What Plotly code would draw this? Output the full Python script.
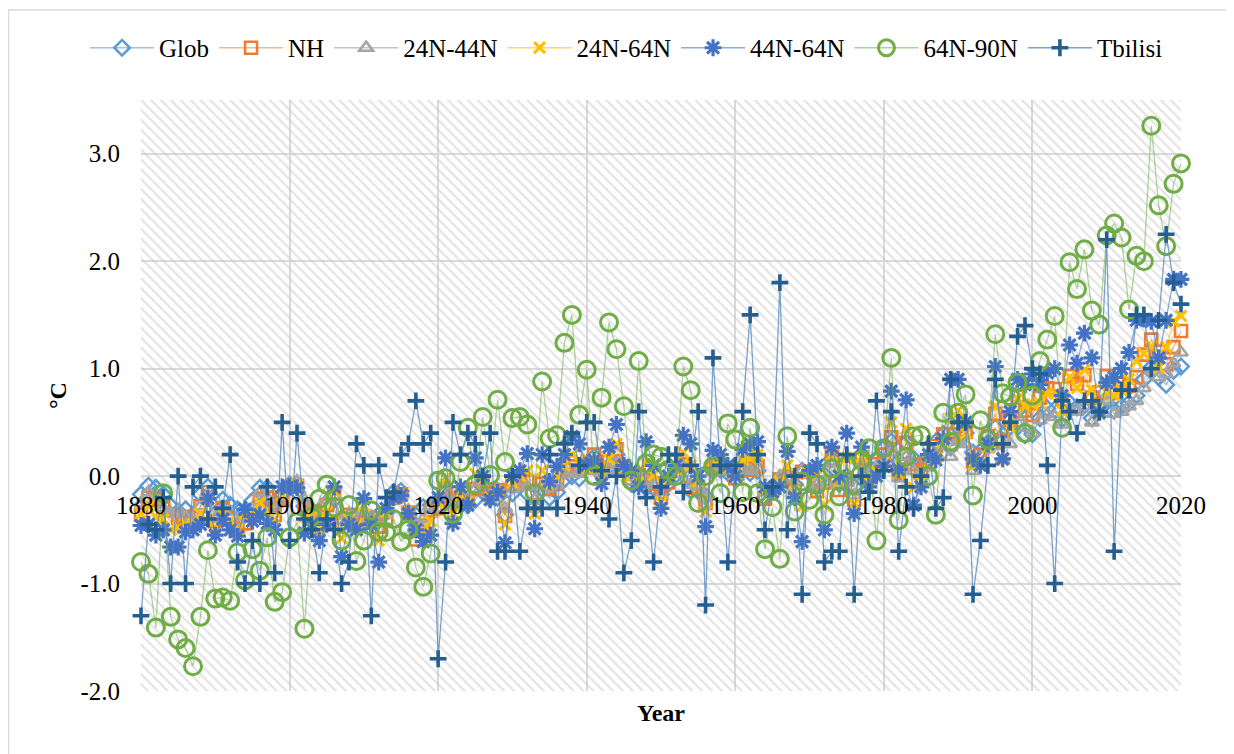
import plotly.graph_objects as go

years = list(range(1880, 2021))

glob = [
    -0.17, -0.09, -0.11, -0.17, -0.28, -0.33, -0.31, -0.36, -0.17, -0.10,
    -0.35, -0.22, -0.27, -0.31, -0.32, -0.23, -0.11, -0.11, -0.27, -0.17,
    -0.08, -0.15, -0.28, -0.37, -0.47, -0.26, -0.22, -0.39, -0.43, -0.48,
    -0.43, -0.44, -0.36, -0.34, -0.15, -0.14, -0.36, -0.46, -0.29, -0.27,
    -0.27, -0.19, -0.28, -0.26, -0.27, -0.22, -0.10, -0.21, -0.20, -0.36,
    -0.16, -0.09, -0.16, -0.29, -0.12, -0.20, -0.15, -0.03, -0.00, -0.02,
    0.12, 0.18, 0.06, 0.09, 0.20, 0.09, -0.07, -0.03, -0.11, -0.11,
    -0.17, -0.07, 0.01, 0.08, -0.13, -0.14, -0.19, 0.05, 0.06, 0.03,
    -0.03, 0.06, 0.03, 0.05, -0.20, -0.11, -0.06, -0.02, -0.08, 0.05,
    0.03, -0.08, 0.01, 0.16, -0.07, -0.01, -0.10, 0.18, 0.07, 0.16,
    0.26, 0.32, 0.14, 0.31, 0.16, 0.12, 0.18, 0.32, 0.39, 0.27,
    0.45, 0.40, 0.22, 0.23, 0.31, 0.45, 0.33, 0.46, 0.61, 0.38,
    0.39, 0.54, 0.63, 0.62, 0.53, 0.68, 0.64, 0.66, 0.54, 0.65,
    0.72, 0.61, 0.65, 0.68, 0.75, 0.90, 1.01, 0.92, 0.85, 0.98,
    1.02,
]

nh = [
    -0.36, -0.20, -0.22, -0.30, -0.43, -0.39, -0.38, -0.44, -0.28, -0.15,
    -0.42, -0.30, -0.40, -0.50, -0.44, -0.36, -0.21, -0.20, -0.36, -0.20,
    -0.10, -0.09, -0.30, -0.33, -0.45, -0.27, -0.16, -0.43, -0.36, -0.43,
    -0.38, -0.39, -0.47, -0.41, -0.20, -0.17, -0.34, -0.59, -0.46, -0.32,
    -0.30, -0.12, -0.25, -0.22, -0.22, -0.12, -0.06, -0.15, -0.13, -0.37,
    -0.08, -0.01, -0.05, -0.27, -0.07, -0.12, -0.07, 0.06, 0.09, 0.05,
    0.09, 0.20, 0.08, 0.14, 0.25, 0.09, -0.02, 0.01, -0.04, -0.07,
    -0.20, -0.06, 0.05, 0.11, -0.11, -0.11, -0.25, 0.07, 0.09, 0.07,
    -0.02, 0.07, 0.06, 0.09, -0.21, -0.13, -0.03, -0.01, -0.14, 0.04,
    0.04, -0.14, -0.06, 0.21, -0.13, -0.03, -0.22, 0.16, 0.01, 0.11,
    0.20, 0.36, 0.03, 0.31, 0.11, 0.05, 0.13, 0.28, 0.39, 0.30,
    0.50, 0.41, 0.14, 0.20, 0.37, 0.58, 0.33, 0.52, 0.75, 0.61,
    0.57, 0.73, 0.82, 0.81, 0.71, 0.93, 0.86, 0.94, 0.73, 0.78,
    0.93, 0.78, 0.86, 0.84, 0.92, 1.13, 1.27, 1.16, 1.04, 1.20,
    1.35,
]

z24_44 = [
    -0.25, -0.15, -0.22, -0.30, -0.35, -0.32, -0.38, -0.40, -0.28, -0.18,
    -0.40, -0.30, -0.33, -0.42, -0.38, -0.30, -0.15, -0.20, -0.32, -0.25,
    -0.12, -0.05, -0.22, -0.30, -0.38, -0.22, -0.18, -0.42, -0.36, -0.40,
    -0.32, -0.38, -0.40, -0.35, -0.22, -0.18, -0.32, -0.48, -0.40, -0.28,
    -0.30, -0.20, -0.24, -0.25, -0.20, -0.12, -0.05, -0.18, -0.12, -0.30,
    -0.12, -0.05, -0.10, -0.22, -0.10, -0.12, -0.08, 0.02, 0.05, 0.02,
    0.05, 0.10, 0.02, 0.06, 0.12, 0.05, -0.05, -0.02, -0.05, -0.08,
    -0.18, -0.05, 0.02, 0.08, -0.08, -0.10, -0.20, 0.05, 0.10, 0.05,
    0.00, 0.05, 0.05, 0.08, -0.15, -0.12, 0.00, -0.02, -0.10, 0.05,
    0.02, -0.08, -0.05, 0.12, -0.08, -0.05, -0.18, 0.10, 0.00, 0.08,
    0.12, 0.22, -0.02, 0.18, 0.05, 0.00, 0.08, 0.20, 0.28, 0.18,
    0.32, 0.30, 0.05, 0.10, 0.25, 0.28, 0.15, 0.30, 0.55, 0.45,
    0.40, 0.52, 0.58, 0.55, 0.48, 0.62, 0.60, 0.65, 0.50, 0.58,
    0.70, 0.58, 0.60, 0.65, 0.70, 0.82, 0.98, 0.92, 0.95, 1.05,
    1.15,
]

z24_64 = [
    -0.35, -0.28, -0.38, -0.40, -0.50, -0.48, -0.45, -0.45, -0.35, -0.20,
    -0.48, -0.35, -0.42, -0.50, -0.35, -0.36, -0.25, -0.32, -0.40, -0.18,
    -0.11, -0.08, -0.38, -0.38, -0.50, -0.33, -0.14, -0.58, -0.40, -0.45,
    -0.28, -0.42, -0.60, -0.33, -0.21, -0.18, -0.34, -0.50, -0.50, -0.42,
    -0.25, -0.02, -0.35, -0.18, -0.24, 0.02, -0.02, -0.20, -0.14, -0.45,
    -0.06, 0.00, 0.05, -0.35, 0.05, -0.08, 0.00, 0.10, 0.20, 0.15,
    0.08, 0.12, 0.00, 0.16, 0.30, 0.08, 0.00, -0.06, 0.12, 0.01,
    -0.24, -0.02, 0.06, 0.22, 0.10, -0.05, -0.33, 0.14, 0.15, 0.08,
    0.00, 0.15, 0.17, 0.20, -0.12, -0.13, -0.05, 0.10, -0.15, -0.28,
    0.03, 0.01, -0.27, 0.20, -0.04, 0.17, -0.26, 0.18, -0.05, 0.04,
    0.10, 0.50, 0.02, 0.44, -0.11, -0.05, 0.14, 0.17, 0.31, 0.54,
    0.61, 0.40, 0.10, 0.10, 0.27, 0.65, 0.15, 0.45, 0.72, 0.65,
    0.67, 0.68, 0.77, 0.77, 0.61, 0.92, 0.82, 0.99, 0.80, 0.58,
    0.78, 0.75, 0.80, 0.90, 1.07, 1.14, 1.21, 1.01, 1.20, 1.44,
    1.49,
]

z44_64 = [
    -0.46, -0.45, -0.55, -0.50, -0.66, -0.66, -0.52, -0.50, -0.45, -0.21,
    -0.55, -0.40, -0.50, -0.56, -0.31, -0.42, -0.36, -0.44, -0.50, -0.10,
    -0.10, -0.11, -0.53, -0.45, -0.60, -0.45, -0.10, -0.75, -0.45, -0.50,
    -0.21, -0.45, -0.80, -0.30, -0.20, -0.18, -0.35, -0.50, -0.61, -0.55,
    -0.20, 0.17, -0.44, -0.10, -0.27, 0.17, 0.00, -0.22, -0.15, -0.62,
    0.00, 0.05, 0.21, -0.49, 0.20, -0.05, 0.09, 0.20, 0.37, 0.30,
    0.10, 0.15, -0.07, 0.27, 0.48, 0.10, 0.05, -0.10, 0.32, 0.10,
    -0.30, 0.00, 0.10, 0.38, 0.30, 0.00, -0.47, 0.24, 0.20, 0.10,
    0.00, 0.25, 0.30, 0.32, -0.10, -0.15, -0.10, 0.23, -0.20, -0.61,
    0.05, 0.10, -0.50, 0.27, 0.00, 0.40, -0.35, 0.27, -0.10, 0.00,
    0.09, 0.79, 0.06, 0.71, -0.27, -0.10, 0.20, 0.15, 0.35, 0.90,
    0.90, 0.50, 0.16, 0.10, 0.30, 1.02, 0.16, 0.60, 0.90, 0.85,
    0.95, 0.85, 0.96, 1.00, 0.75, 1.22, 1.05, 1.33, 1.10, 0.59,
    0.87, 0.92, 1.00, 1.15, 1.45, 1.46, 1.44, 1.10, 1.45, 1.83,
    1.83,
]

z64_90 = [
    -0.80, -0.91, -1.41, -0.16, -1.31, -1.52, -1.60, -1.77, -1.31, -0.69,
    -1.14, -1.13, -1.16, -0.71, -0.97, -0.68, -0.88, -0.57, -1.17, -1.08,
    -0.57, -0.43, -1.42, -0.38, -0.21, -0.08, -0.29, -0.60, -0.27, -0.79,
    -0.60, -0.32, -0.52, -0.52, -0.40, -0.61, -0.50, -0.85, -1.03, -0.72,
    -0.04, -0.02, -0.35, 0.13, 0.45, -0.08, 0.55, 0.01, 0.71, 0.13,
    0.54, 0.55, 0.48, -0.16, 0.88, 0.35, 0.38, 1.24, 1.50, 0.57,
    0.99, 0.00, 0.73, 1.43, 1.18, 0.65, -0.04, 1.07, 0.12, 0.20,
    0.18, 0.06, 0.00, 1.02, 0.80, -0.25, 0.00, 0.09, -0.16, 0.49,
    0.34, -0.15, 0.45, -0.16, -0.68, -0.29, -0.77, 0.37, -0.33, -0.05,
    -0.22, -0.08, -0.36, 0.07, -0.19, 0.10, -0.08, 0.15, 0.26, -0.60,
    0.26, 1.10, -0.41, 0.18, 0.37, 0.38, 0.00, -0.36, 0.59, 0.32,
    0.59, 0.76, -0.18, 0.52, 0.34, 1.32, 0.77, 0.74, 0.87, 0.40,
    0.75, 1.07, 1.27, 1.49, 0.45, 1.99, 1.74, 2.11, 1.54, 1.41,
    2.24, 2.35, 2.22, 1.55, 2.05, 2.00, 3.26, 2.52, 2.14, 2.72,
    2.91,
]

tbilisi = [
    -1.30, -0.45, -0.50, -0.20, -1.00, 0.00, -1.00, -0.10, 0.00, -0.40,
    -0.10, -0.30, 0.20, -0.80, -1.00, -0.60, -1.00, -0.10, -0.90, 0.50,
    -0.60, 0.40, -0.40, -0.50, -0.90, -0.40, -0.50, -1.00, -0.80, 0.30,
    0.10, -1.30, 0.10, -0.20, -0.15, 0.20, 0.30, 0.70, 0.30, 0.40,
    -1.70, -0.80, 0.50, 0.20, 0.40, 0.30, 0.00, 0.40, -0.70, -0.70,
    0.00, -0.70, -0.30, -0.30, -0.30, 0.20, -0.30, 0.30, 0.40, 0.10,
    0.50, 0.50, 0.05, -0.40, 0.00, -0.90, -0.60, 0.60, -0.20, -0.80,
    -0.10, 0.20, 0.20, -0.15, 0.10, 0.60, -1.20, 1.10, 0.10, -0.80,
    0.10, 0.60, 1.50, 0.20, -0.50, -0.10, 1.80, -0.50, 0.00, -1.10,
    0.40, 0.30, -0.80, -0.70, -0.70, 0.20, -1.10, 0.00, -0.15, 0.70,
    0.05, 0.60, -0.70, -0.10, -0.30, 0.00, 0.30, -0.30, -0.20, 0.90,
    0.50, 0.50, -1.10, -0.60, 0.10, 0.90, 0.30, 0.50, 1.30, 1.40,
    1.00, 0.95, 0.10, -1.00, 0.70, 0.60, 0.40, 0.70, 0.70, 0.60,
    2.20, -0.70, 0.80, 0.80, 1.50, 1.50, 1.00, 1.45, 2.25, 1.80,
    1.60,
]

series_names = ["Glob", "NH", "24N-44N", "24N-64N", "44N-64N", "64N-90N", "Tbilisi"]
series_values = [glob, nh, z24_44, z24_64, z44_64, z64_90, tbilisi]

x_ticks = [1880, 1900, 1920, 1940, 1960, 1980, 2000, 2020]
x_ticktext = ["1880", "1900", "1920", "1940", "1960", "1980", "2000", "2020"]
y_ticks = [-2, -1, 0, 1, 2, 3]
y_ticktext = ["-2.0", "-1.0", "0.0", "1.0", "2.0", "3.0"]
x_range = [1880, 2020]
y_range = [-2, 3.5]

styles = {
    "Glob": dict(color="#5B9BD5", line="rgba(91,155,213,0.6)", symbol="diamond-open", size=12, lw=2.5),
    "NH": dict(color="#ED7D31", line="rgba(237,125,49,0.55)", symbol="square-open", size=12, lw=2.6),
    "24N-44N": dict(color="#A5A5A5", line="rgba(165,165,165,0.65)", symbol="triangle-up-open", size=12, lw=2.6),
    "24N-64N": dict(color="#FFC000", line="rgba(255,192,0,0.6)", symbol="x-thin-open", size=11, lw=3.2),
    "44N-64N": dict(color="#4472C4", line="rgba(68,114,196,0.6)", symbol="asterisk-open", size=14, lw=3.2),
    "64N-90N": dict(color="#70AD47", line="rgba(112,173,71,0.55)", symbol="circle-open", size=17, lw=3.0),
    "Tbilisi": dict(color="#255E91", line="rgba(91,140,190,0.8)", symbol="cross-thin-open", size=12, lw=3.6),
}

fig = go.Figure()

# hatched plot-area background
fig.add_trace(go.Scatter(
    x=[x_range[0], x_range[1], x_range[1], x_range[0], x_range[0]],
    y=[y_range[0], y_range[0], y_range[1], y_range[1], y_range[0]],
    mode="none", fill="toself", fillcolor="rgba(0,0,0,0)",
    fillpattern=dict(shape="\\", fgcolor="#c8c8c8", size=7, solidity=0.32),
    hoverinfo="skip", showlegend=False,
))

for name, vals in zip(series_names, series_values):
    s = styles[name]
    fig.add_trace(go.Scatter(
        x=years, y=vals, name=name, mode="lines+markers",
        line=dict(color=s["line"], width=1.3),
        marker=dict(symbol=s["symbol"], size=s["size"], color=s["color"],
                    line=dict(color=s["color"], width=s["lw"])),
        cliponaxis=False,
    ))

font_family = "Liberation Serif"
x_pos = (0 - y_range[0]) / (y_range[1] - y_range[0])

fig.update_layout(
    width=1226, height=746,
    margin=dict(l=133, r=53, t=92, b=63),
    paper_bgcolor="white", plot_bgcolor="white",
    font=dict(family=font_family, size=25, color="black"),
    showlegend=True,
    legend=dict(orientation="h", x=-0.0538, xanchor="left", y=1.088, yanchor="middle",
                font=dict(size=25, family=font_family, color="black"), traceorder="normal",
                itemwidth=64, bgcolor="rgba(0,0,0,0)"),
    xaxis=dict(range=x_range, tickvals=x_ticks, ticktext=x_ticktext,
               showgrid=True, gridcolor="#d9d9d9", gridwidth=1.5,
               zeroline=False, showline=False, ticks="",
               anchor="free", position=x_pos, ticklabelstandoff=12,
               tickfont=dict(size=25, family=font_family, color="black")),
    yaxis=dict(range=y_range, tickvals=y_ticks, ticktext=y_ticktext,
               showgrid=True, gridcolor="#d9d9d9", gridwidth=1.5,
               zeroline=False, showline=False, ticks="",
               ticklabelstandoff=20,
               tickfont=dict(size=25, family=font_family, color="black")),
    annotations=[
        dict(text="<b>Year</b>", xref="paper", yref="paper", x=0.5, y=-0.037,
             xanchor="center", yanchor="middle", showarrow=False,
             font=dict(size=24, family=font_family, color="black")),
        dict(text="<b>°C</b>", xref="paper", yref="paper", x=-0.0798, y=0.499,
             xanchor="center", yanchor="middle", showarrow=False, textangle=-90,
             font=dict(size=24, family=font_family, color="black")),
    ],
    shapes=[
        dict(type="rect", xref="paper", yref="paper",
             x0=-0.1274, x1=1.049, y0=-0.1134, y1=1.1523,
             line=dict(color="#d9d9d9", width=1.5), fillcolor="rgba(0,0,0,0)",
             layer="below"),
    ],
)

fig.write_html("out.html")
